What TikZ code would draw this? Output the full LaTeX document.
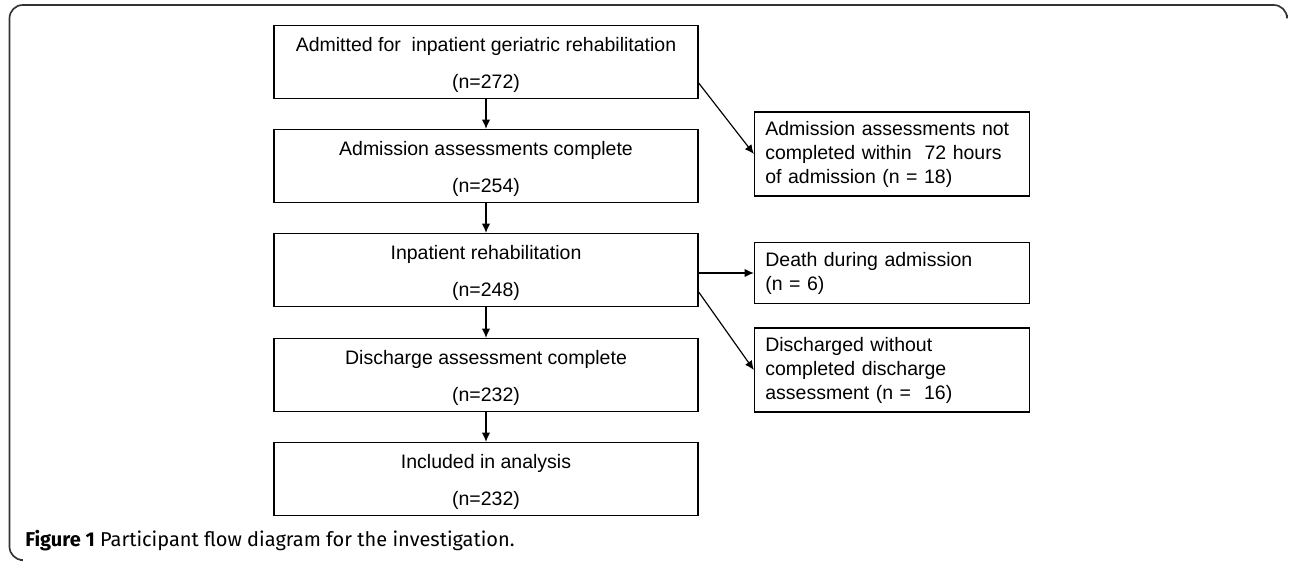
\documentclass[tikz,border=0pt]{standalone}
\usepackage{fontspec}
\setmainfont{Liberation Sans}
\newfontfamily\capfont{Fira Sans}
\usetikzlibrary{positioning}
\usetikzlibrary{arrows.meta}
\usetikzlibrary{calc}

\begin{document}
\begin{tikzpicture}[x=0.6pt, y=-0.6pt,
	mainbox/.style={draw, line width=0.8pt, minimum width=254.4pt, minimum height=43.8pt, inner sep=0pt, align=center, font=\fontsize{11.7}{22.2}\selectfont},
	sidebox/.style={draw, line width=0.8pt, text width=152pt, inner xsep=6.5pt, inner ysep=0pt, align=left, font=\fontsize{11.7}{14.4}\selectfont},
	flow/.style={-{Latex[length=5.5pt, width=5pt]}, line width=0.7pt}]
	\useasboundingbox (0,0) rectangle (1290,562);

	% outer frame
	\draw[black!80, line width=1pt, rounded corners=8] (20,560) -- (9.5,560) -- (9.5,5) -- (1287,5) -- (1287,15);

	% main flow
	\node[mainbox] (adm) at (486,62) {\rule{0pt}{12pt}Admitted for\ \ inpatient geriatric rehabilitation\\(n=272)};
	\node[mainbox] (assess) at (486,166) {\rule{0pt}{12pt}Admission assessments complete\\(n=254)};
	\node[mainbox] (rehab) at (486,270) {\rule{0pt}{12pt}Inpatient rehabilitation\\(n=248)};
	\node[mainbox] (disch) at (486,375) {\rule{0pt}{12pt}Discharge assessment complete\\(n=232)};
	\node[mainbox] (incl) at (486,479) {\rule{0pt}{12pt}Included in analysis\\(n=232)};

	% exclusions
	\node[sidebox, minimum height=50.4pt] (notdone) at (892,154) {Admission assessments not\\completed within\ \ 72 hours\\of admission (n = 18)};
	\node[sidebox, minimum height=36.6pt] (death) at (892,273) {Death during admission\\(n = 6)};
	\node[sidebox, minimum height=50.4pt] (nodisch) at (892,370) {Discharged without\\completed discharge\\assessment (n =\ \ 16)};

	\draw[flow] (adm) -- (assess);
	\draw[flow] (assess) -- (rehab);
	\draw[flow] (rehab) -- (disch);
	\draw[flow] (disch) -- (incl);

	\draw[flow] ([yshift=-12.6pt]adm.east) -- (notdone.west);
	\draw[flow] (rehab.east |- death.west) -- (death.west);
	\draw[flow] ([yshift=-13.2pt]rehab.east) -- (nodisch.west);

	% caption
	\node[anchor=base west, inner sep=0pt, font=\capfont\fontsize{12}{14}\selectfont] (cap) at (25,547) {\textbf{Figure 1} Participant flow diagram for the investigation.};
\end{tikzpicture}
\end{document}
